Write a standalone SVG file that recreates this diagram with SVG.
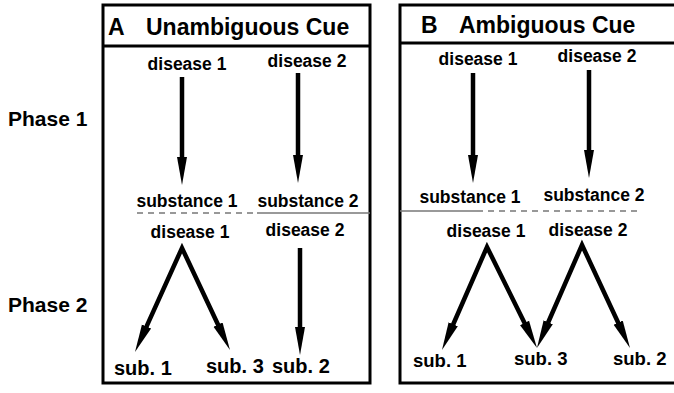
<svg xmlns="http://www.w3.org/2000/svg" width="674" height="393" viewBox="0 0 674 393">
<style>
text{font-family:"Liberation Sans",Arial,sans-serif;font-weight:bold;fill:#000}
.title{font-size:23px}
.phase{font-size:21px}
.lbl{font-size:17.5px}
.sub{font-size:20px}
.subb{font-size:18.5px}
.frame{fill:none;stroke:#000;stroke-width:3}
.arrow{fill:none;stroke:#000;stroke-width:4.5;stroke-linejoin:miter;stroke-miterlimit:20;marker-end:url(#ah)}
.varrow{marker-start:url(#ahs)}
.sep{stroke:#777;stroke-width:1.5;fill:none}
</style>
<defs>
<marker id="ah" markerUnits="userSpaceOnUse" markerWidth="30" markerHeight="12" refX="10" refY="6" orient="auto" viewBox="0 0 30 12">
<path d="M0,1 L28,6 L0,11 z" fill="#000"/>
</marker>
<marker id="ahs" markerUnits="userSpaceOnUse" markerWidth="30" markerHeight="12" refX="10" refY="6" orient="auto-start-reverse" viewBox="0 0 30 12">
<path d="M0,1 L28,6 L0,11 z" fill="#000"/>
</marker>
</defs>
<rect width="674" height="393" fill="#fff"/>
<g id="phase-labels">
<text class="phase" x="8" y="126">Phase 1</text>
<text class="phase" x="8" y="312">Phase 2</text>
</g>
<g id="panelA">
<rect class="frame" x="103" y="5" width="267" height="378"/>
<line x1="103" y1="46" x2="370" y2="46" stroke="#000" stroke-width="3"/>
<text class="title" x="108" y="35">A</text>
<text class="title" x="146" y="35">Unambiguous Cue</text>
<line class="sep" x1="137" y1="213" x2="257" y2="213" stroke-dasharray="6,5"/>
<line class="sep" x1="257" y1="213" x2="370" y2="213"/>
</g>
<g id="panelB">
<path class="frame" d="M676,5 L400,5 L400,383 L676,383"/>
<line x1="400" y1="43" x2="674" y2="43" stroke="#000" stroke-width="3"/>
<text class="title" x="421" y="33">B</text>
<text class="title" x="459" y="33">Ambiguous Cue</text>
<line class="sep" x1="400" y1="211" x2="477" y2="211"/>
<line class="sep" x1="477" y1="211" x2="640" y2="211" stroke-dasharray="6,5"/>
</g>
<g id="A-p1-disease1"><text class="lbl" x="187" y="70" text-anchor="middle">disease 1</text></g>
<g id="A-p1-disease2"><text class="lbl" x="307" y="67" text-anchor="middle">disease 2</text></g>
<g id="A-p1-substance1"><text class="lbl" x="187" y="207" text-anchor="middle">substance 1</text></g>
<g id="A-p1-substance2"><text class="lbl" x="308" y="207" text-anchor="middle">substance 2</text></g>
<g id="A-p2-disease1"><text class="lbl" x="190" y="238" text-anchor="middle">disease 1</text></g>
<g id="A-p2-disease2"><text class="lbl" x="305" y="236" text-anchor="middle">disease 2</text></g>
<g id="A-p2-sub1"><text class="sub" x="114" y="375">sub. 1</text></g>
<g id="A-p2-sub3"><text class="sub" x="206" y="373">sub. 3</text></g>
<g id="A-p2-sub2"><text class="sub" x="272" y="373">sub. 2</text></g>
<g id="B-p1-disease1"><text class="lbl" x="478" y="65" text-anchor="middle">disease 1</text></g>
<g id="B-p1-disease2"><text class="lbl" x="597" y="62" text-anchor="middle">disease 2</text></g>
<g id="B-p1-substance1"><text class="lbl" x="470" y="203" text-anchor="middle">substance 1</text></g>
<g id="B-p1-substance2"><text class="lbl" x="594" y="201" text-anchor="middle">substance 2</text></g>
<g id="B-p2-disease1"><text class="lbl" x="486" y="237" text-anchor="middle">disease 1</text></g>
<g id="B-p2-disease2"><text class="lbl" x="588" y="236" text-anchor="middle">disease 2</text></g>
<g id="B-p2-sub1"><text class="subb" x="413" y="367">sub. 1</text></g>
<g id="B-p2-sub3"><text class="subb" x="514" y="365">sub. 3</text></g>
<g id="B-p2-sub2"><text class="subb" x="613" y="365">sub. 2</text></g>
<g id="connectors">
<line class="arrow" x1="182" y1="77" x2="182" y2="167"/>
<line class="arrow" x1="298" y1="73" x2="298" y2="165"/>
<line class="arrow" x1="473" y1="73" x2="473" y2="165"/>
<line class="arrow" x1="589" y1="70" x2="589" y2="160"/>
<path class="arrow varrow" d="M142.4,335.6 L182,248 L222.3,333.7"/>
<line class="arrow" x1="300" y1="248" x2="300" y2="337"/>
<path class="arrow varrow" d="M449.2,333.5 L487,247 L529,331.9"/>
<path class="arrow varrow" d="M544.2,331.5 L582,245 L622.4,331.7"/>
</g>
</svg>
